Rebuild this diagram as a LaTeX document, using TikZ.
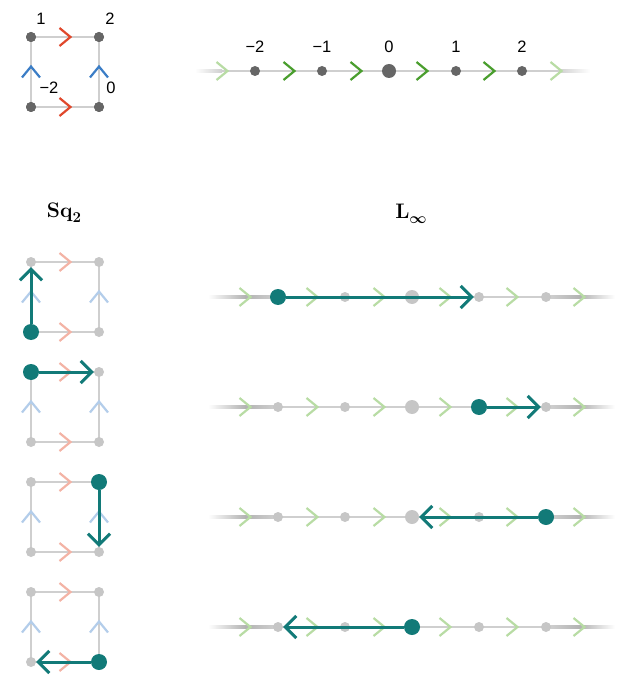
\documentclass[tikz,border=0pt]{standalone}
\usepackage{fontspec}
\newfontfamily\labfont{Liberation Sans}
\font\bsyfont=cmbsy10 at 15pt
\usetikzlibrary{arrows.meta}
\definecolor{tealc}{HTML}{127A78}
\definecolor{dotgray}{HTML}{C6C6C6}
\definecolor{darkdot}{HTML}{666666}
\definecolor{edgegray}{HTML}{CFCFCF}
\definecolor{redc}{HTML}{E0482C}
\definecolor{bluec}{HTML}{3B7DC6}
\definecolor{redf}{HTML}{F3B3A5}
\definecolor{bluef}{HTML}{B3CDEA}
\definecolor{greenc}{HTML}{4A9E2E}
\definecolor{greenf}{HTML}{B8DCA4}
\tikzset{
  chev/.pic={\draw[pic actions, line cap=butt, line join=miter] (-5.5,-9) -- (5.5,0) -- (-5.5,9);},
  redchev/.style={draw=redc, line width=2.2pt},
  bluechev/.style={draw=bluec, line width=2.2pt, rotate=90},
  redfchev/.style={draw=redf, line width=2.2pt},
  bluefchev/.style={draw=bluef, line width=2.2pt, rotate=90},
  greenchev/.style={draw=greenc, line width=2.2pt},
  greenfchev/.style={draw=greenf, line width=2.2pt},
  gdot/.style={circle, fill=dotgray, inner sep=0pt, minimum size=10pt},
  gbig/.style={circle, fill=dotgray, inner sep=0pt, minimum size=14pt},
  ddot/.style={circle, fill=darkdot, inner sep=0pt, minimum size=10pt},
  dbig/.style={circle, fill=darkdot, inner sep=0pt, minimum size=14pt},
  tdot/.style={circle, fill=tealc, inner sep=0pt, minimum size=16pt},
  sqedge/.style={draw=edgegray, line width=2pt},
  tarrow/.style={draw=tealc, line width=3pt, -{Straight Barb[length=11pt,width=22pt]}},
  numlab/.style={font=\labfont\fontsize{16.5}{19}\selectfont, inner sep=0pt},
  ttlbox/.style={font=\fontsize{21}{24}\selectfont\bfseries, anchor=base, inner sep=0pt}
}
\begin{document}
\begin{tikzpicture}[x=1pt,y=-1pt]
\useasboundingbox (0,0) rectangle (642,684);
% ---------- top square ----------
\node[ddot] (A-tl) at (31,37) {};
\node[ddot] (A-tr) at (99,37) {};
\node[ddot] (A-bl) at (31,107) {};
\node[ddot] (A-br) at (99,107) {};
\draw[sqedge] (A-tl) -- (A-tr);
\draw[sqedge] (A-bl) -- (A-br);
\draw[sqedge] (A-bl) -- (A-tl);
\draw[sqedge] (A-br) -- (A-tr);
\pic[redchev] at (65,37) {chev};
\pic[redchev] at (65,107) {chev};
\pic[bluechev] at (31,72) {chev};
\pic[bluechev] at (99,72) {chev};
\node[ddot] at (A-tl) {};
\node[ddot] at (A-tr) {};
\node[ddot] at (A-bl) {};
\node[ddot] at (A-br) {};
\node[numlab] (l1) at (41,19) {1};
\node[numlab] (l2) at (110,19) {2};
\node[numlab] (lm2) at (49,88) {\char"2212 2};
\node[numlab] (l0) at (111,88) {0};
% ---------- top line ----------
\shade[left color=white, right color=edgegray] (195,69.8) rectangle (222,72.2);
\fill[edgegray] (222,69.8) rectangle (558,72.2);
\shade[left color=edgegray, right color=white] (558,69.8) rectangle (590,72.2);
\pic[greenfchev] at (222,71) {chev};
\foreach \x in {289,356,422,489} {\pic[greenchev] at (\x,71) {chev};}
\pic[greenfchev] at (556,71) {chev};
\node[ddot] (T0) at (255,71) {};
\node[ddot] (T1) at (322,71) {};
\node[dbig] (T2) at (389,71) {};
\node[ddot] (T3) at (456,71) {};
\node[ddot] (T4) at (522,71) {};
\node[numlab] (t0) at (255,47) {\char"2212 2};
\node[numlab] (t1) at (322,47) {\char"2212 1};
\node[numlab] (t2) at (389,47) {0};
\node[numlab] (t3) at (456,47) {1};
\node[numlab] (t4) at (522,47) {2};
% ---------- titles ----------
\node[ttlbox] (sqt) at (64,218) {Sq\raisebox{-4.5pt}{\fontsize{15}{15}\selectfont 2}};
\node[ttlbox] (lt) at (411,219) {L\raisebox{-4.5pt}{\bsyfont\char"31}};
% ---------- rows ----------
\foreach \r/\y in {1/297,2/407,3/517,4/627} {
  % square
  \draw[sqedge] (31,\y-35) -- (99,\y-35);
  \draw[sqedge] (31,\y+35) -- (99,\y+35);
  \draw[sqedge] (31,\y-35) -- (31,\y+35);
  \draw[sqedge] (99,\y-35) -- (99,\y+35);
  \pic[redfchev] at (65,\y-35) {chev};
  \pic[redfchev] at (65,\y+35) {chev};
  \pic[bluefchev] at (31,\y) {chev};
  \pic[bluefchev] at (99,\y) {chev};
  \node[gdot] (S\r-tl) at (31,\y-35) {};
  \node[gdot] (S\r-tr) at (99,\y-35) {};
  \node[gdot] (S\r-bl) at (31,\y+35) {};
  \node[gdot] (S\r-br) at (99,\y+35) {};
  % line
  \shade[left color=white, right color=gray!60] (208,\y-1.3) rectangle (245,\y+1.3);
  \shade[left color=gray!60, right color=edgegray] (245,\y-1.3) rectangle (275,\y+1.3);
  \fill[edgegray] (275,\y-1.3) rectangle (550,\y+1.3);
  \shade[left color=edgegray, right color=gray!60] (550,\y-1.3) rectangle (580,\y+1.3);
  \shade[left color=gray!60, right color=white] (580,\y-1.3) rectangle (615,\y+1.3);
  \foreach \x in {245,312,379,445,512,579} {\pic[greenfchev] at (\x,\y) {chev};}
  \node[gdot] (L\r-0) at (278,\y) {};
  \node[gdot] (L\r-1) at (345,\y) {};
  \node[gbig] (L\r-2) at (412,\y) {};
  \node[gdot] (L\r-3) at (479,\y) {};
  \node[gdot] (L\r-4) at (546,\y) {};
}
% ---------- teal paths ----------
\node[tdot] (P1) at (S1-bl) {};
\draw[tarrow] (P1) -- (S1-tl);
\node[tdot] (Q1) at (L1-0) {};
\draw[tarrow] (Q1) -- (L1-3);
\node[tdot] (P2) at (S2-tl) {};
\draw[tarrow] (P2) -- (S2-tr);
\node[tdot] (Q2) at (L2-3) {};
\draw[tarrow] (Q2) -- (L2-4);
\node[tdot] (P3) at (S3-tr) {};
\draw[tarrow] (P3) -- (S3-br);
\node[tdot] (Q3) at (L3-4) {};
\draw[tarrow] (Q3) -- (L3-2);
\node[tdot] (P4) at (S4-br) {};
\draw[tarrow] (P4) -- (S4-bl);
\node[tdot] (Q4) at (L4-2) {};
\draw[tarrow] (Q4) -- (L4-0);
\end{tikzpicture}
\end{document}
